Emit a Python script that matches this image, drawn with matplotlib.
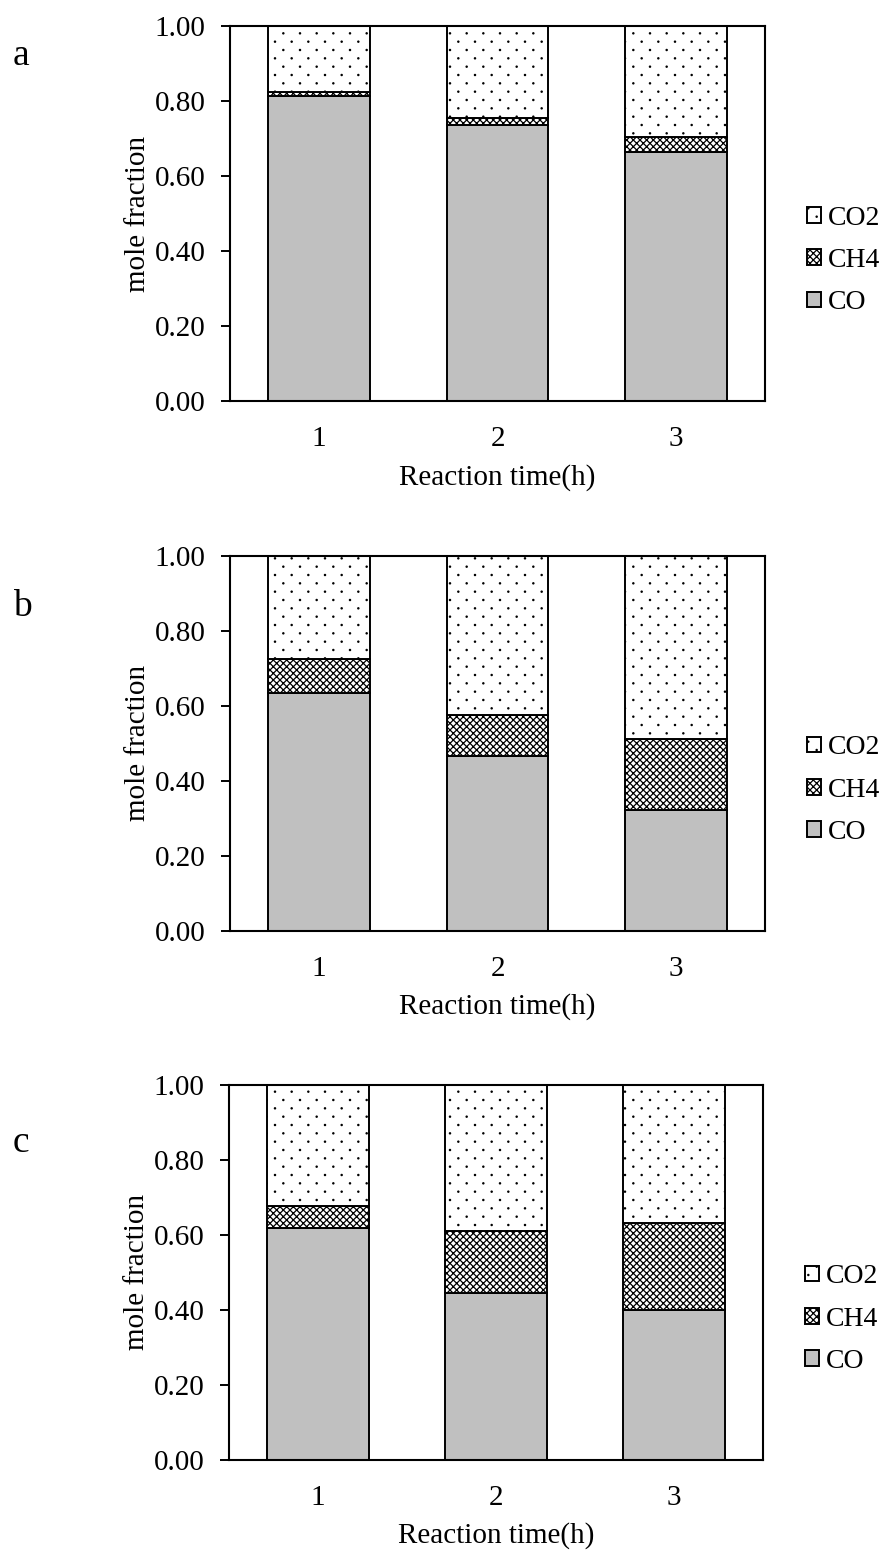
import numpy as np
import matplotlib
matplotlib.use("Agg")
import matplotlib.pyplot as plt
import matplotlib.hatch as mhatch
from matplotlib.path import Path

# ---- data -------------------------------------------------------------
times = ["1", "2", "3"]
series = ["CO", "CH4", "CO2"]

co_a = [0.813, 0.738, 0.664]
ch4_a = [0.013, 0.018, 0.041]
co2_a = [0.174, 0.244, 0.295]

co_b = [0.634, 0.465, 0.323]
ch4_b = [0.091, 0.109, 0.188]
co2_b = [0.275, 0.426, 0.489]

co_c = [0.618, 0.444, 0.399]
ch4_c = [0.059, 0.167, 0.231]
co2_c = [0.323, 0.389, 0.370]

yticks = [0.0, 0.2, 0.4, 0.6, 0.8, 1.0]
panel_labels = ["a", "b", "c"]


# ---- sparse staggered dot hatch used for the CO2 segments --------------
class StaggeredDots(mhatch.HatchPatternBase):
    """'.' hatch: a few dots per inch across, rows staggered and twice as close."""
    radius = 0.006

    def __init__(self, hatch, density):
        n = hatch.count('.')
        circle = Path.unit_circle()
        self._verts = circle.vertices
        self._codes = circle.codes
        self._centers = []
        if n == 0:
            self.num_vertices = 0
            return
        ncols = n * density
        nrows = 2 * ncols
        for r in range(nrows + 1):
            y = r / nrows
            if r % 2 == 0:
                xs = np.linspace(0, 1, ncols + 1)
            else:
                xs = (np.arange(ncols) + 0.5) / ncols
            self._centers += [(x, y) for x in xs]
        self.num_vertices = len(self._centers) * len(self._verts)

    def set_vertices_and_codes(self, vertices, codes):
        k = len(self._verts)
        for i, (cx, cy) in enumerate(self._centers):
            vertices[i * k:(i + 1) * k] = self._verts * self.radius + (cx, cy)
            codes[i * k:(i + 1) * k] = self._codes


mhatch._hatch_types = [t for t in mhatch._hatch_types
                       if t is not mhatch.SmallFilledCircles] + [StaggeredDots]

# ---- style ------------------------------------------------------------
plt.rcParams["font.family"] = ["Liberation Serif", "DejaVu Serif"]
plt.rcParams["hatch.linewidth"] = 0.9
plt.rcParams["hatch.color"] = "black"

FS = 21
W, H = 889, 1550
fig = plt.figure(figsize=(W / 100, H / 100), dpi=100)

# axes boxes in pixels: (left, top, right, bottom)
boxes = [(230, 26.3, 765, 401.3),
         (230, 555.7, 765, 930.7),
         (229, 1084.7, 763, 1459.7)]
letter_baselines = [65, 616, 1152]

panels = [(co_a, ch4_a, co2_a), (co_b, ch4_b, co2_b), (co_c, ch4_c, co2_c)]

styles = {
    "CO": dict(color="#c0c0c0", hatch=None),
    "CH4": dict(color="white", hatch="xxxxx"),
    "CO2": dict(color="white", hatch="."),
}

x = np.arange(1, len(times) + 1)
width = 0.57

for (l, t, r, b), (co, ch4, co2), letter, lb in zip(boxes, panels, panel_labels,
                                                     letter_baselines):
    ax = fig.add_axes([l / W, (H - b) / H, (r - l) / W, (b - t) / H])
    bottom = np.zeros(len(times))
    handles = {}
    for name, vals in zip(series, (co, ch4, co2)):
        st = styles[name]
        bars = ax.bar(x, vals, width, bottom=bottom, color=st["color"],
                      hatch=st["hatch"], edgecolor="black", linewidth=1.4,
                      label=name, zorder=2)
        handles[name] = bars
        bottom = bottom + np.array(vals)

    ax.set_xlim(0.5, len(times) + 0.5)
    ax.set_ylim(0, 1)
    ax.set_xticks(x)
    ax.set_xticklabels(times)
    ax.set_yticks(yticks)
    ax.set_yticklabels([f"{v:.2f}" for v in yticks])
    ax.tick_params(axis="x", length=0, pad=18, labelsize=FS)
    ax.tick_params(axis="y", direction="out", length=6.5, width=1.4, pad=11,
                   labelsize=FS)
    for sp in ax.spines.values():
        sp.set_linewidth(1.5)
    ax.set_xlabel("Reaction time(h)", fontsize=FS, labelpad=8.5)
    ax.set_ylabel("mole fraction", fontsize=FS, labelpad=3)

    order = ["CO2", "CH4", "CO"]
    ax.legend([handles[n] for n in order], order, loc="center left",
              bbox_to_anchor=(1.078, 0.375), frameon=False, fontsize=20,
              handlelength=0.5, handleheight=0.5, handletextpad=0.25,
              labelspacing=0.62, borderpad=0, borderaxespad=0)

    fig.text(13 / W, 1 - lb / H, letter, fontsize=27, ha="left", va="baseline")

fig.savefig("out.png", dpi=100)
